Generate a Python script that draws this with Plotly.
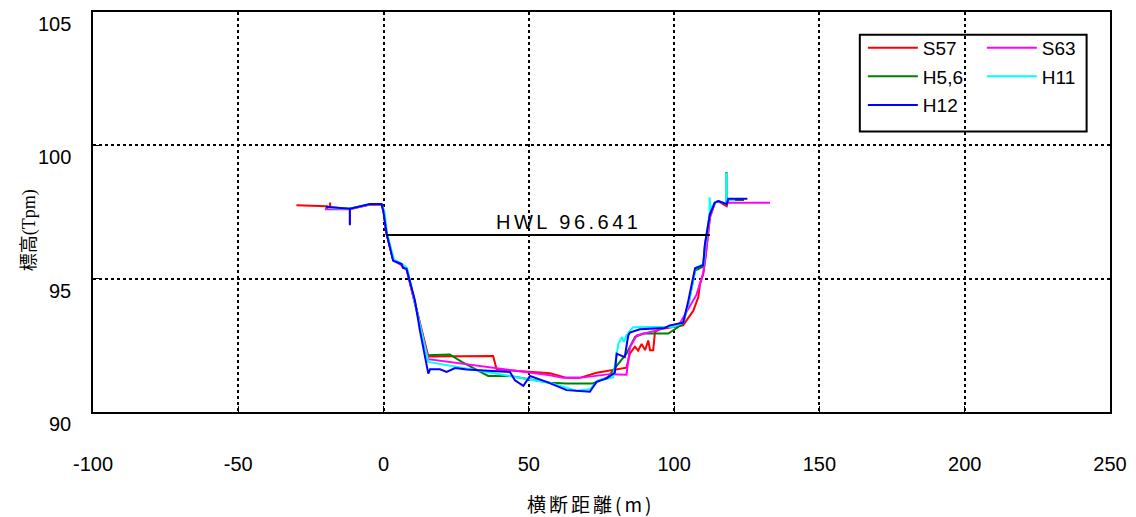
import plotly.graph_objects as go

# cross-section profiles (distance m, elevation Tpm)
s57_x = [-30, -19.6, -18.4, -18.4, -18.4, -11.6, -4.7, -0.7, 0.0, 1.0, 2.2, 3.3, 6.2, 6.7, 7.9, 10.8,
         15.4, 37.7, 38.9, 57.3, 63.0, 67.5, 73.3, 83.6, 84.8, 86.5, 87.6, 88.8, 90.0, 91.1, 91.7, 92.8,
         93.4, 95.0, 103.1, 106.6, 108.3, 108.9, 110.0, 110.8, 112.3, 114.0, 115.2, 118.1, 118.6, 124.0]
s57_y = [97.75, 97.72, 97.68, 97.86, 97.68, 97.62, 97.78, 97.78, 97.55, 96.7, 96.2, 95.7, 95.55, 95.4, 95.37, 94.1,
         92.08, 92.1, 91.6, 91.45, 91.28, 91.28, 91.47, 91.66, 92.2, 92.45, 92.3, 92.55, 92.32, 92.68, 92.32, 92.32,
         93.0, 93.1, 93.25, 93.8, 94.3, 94.8, 95.17, 95.8, 97.3, 97.85, 97.9, 97.72, 97.95, 97.95]

h56_x = [-20.0, -11.6, -4.7, -0.7, 0.0, 1.0, 2.2, 3.3, 6.2, 7.9, 11.0, 15.0, 22.8, 26.9, 36.0, 43.5, 57.3,
         63.0, 72.0, 77.3, 80.0, 83.6, 86.5, 89.4, 98.0, 103.1, 105.0, 107.2, 110.0, 110.6, 112.3, 114.0,
         115.2, 118.0, 118.0, 118.1, 124.0]
h56_y = [97.65, 97.62, 97.78, 97.78, 97.55, 96.7, 96.2, 95.7, 95.55, 95.4, 94.0, 92.13, 92.16, 91.88, 91.35, 91.35, 91.1,
         91.07, 91.07, 91.32, 91.7, 92.19, 92.81, 92.94, 92.94, 93.31, 94.1, 95.3, 95.45, 96.29, 97.41, 97.85,
         97.91, 97.8, 99.0, 97.95, 97.95]

s63_x = [-20.2, -11.6, -11.6, -11.6, -4.7, -0.7, 0.0, 1.0, 2.2, 3.3, 6.2, 7.9, 15.4, 57.3, 61.8, 67.5, 77.8,
         83.6, 84.8, 87.1, 94.0, 102.0, 107.7, 110.0, 111.0, 112.3, 114.0, 115.2, 118.0, 118.6, 133.0]
s63_y = [97.6, 97.6, 97.05, 97.6, 97.78, 97.78, 97.55, 96.7, 96.2, 95.7, 95.5, 95.35, 91.98, 91.38, 91.28, 91.28, 91.42,
         91.4, 92.44, 92.87, 93.06, 93.33, 94.4, 95.2, 96.0, 97.3, 97.85, 97.9, 97.8, 97.85, 97.85]

h11_x = [-19.0, -11.6, -4.7, -0.7, 0.3, 1.2, 2.4, 3.6, 6.4, 8.1, 15.4, 57.3, 66.4, 71.0, 73.9, 79.0, 80.8,
         82.0, 82.7, 83.6, 84.9, 85.9, 99.7, 103.1, 105.2, 107.4, 110.2, 110.8, 112.2, 112.2, 112.5, 114.0,
         115.2, 118.0, 118.0, 118.1, 121.0]
h11_y = [97.65, 97.62, 97.8, 97.8, 97.5, 96.7, 96.2, 95.7, 95.55, 95.4, 91.88, 91.09, 90.8, 90.85, 91.19, 91.3, 92.56,
         92.81, 92.63, 92.87, 93.06, 93.18, 93.2, 93.35, 94.2, 95.4, 95.55, 96.3, 97.41, 98.05, 97.6, 97.85,
         97.91, 97.8, 98.97, 97.95, 97.95]

h12_x = [-19.8, -11.6, -11.6, -11.6, -4.7, -0.7, -0.1, 1.07, 2.2, 3.3, 6.2, 6.7, 7.9, 10.8, 12.5, 15.4, 16.0,
         19.4, 21.7, 24.6, 28.6, 43.5, 45.2, 48.1, 50.4, 56.1, 63.0, 71.0, 73.3, 76.8, 79.6, 80.2, 83.0,
         84.2, 84.8, 88.2, 96.8, 98.5, 103.1, 104.9, 107.2, 110.0, 110.6, 112.3, 114.0, 115.2, 118.1, 118.6, 125.2]
h12_y = [97.7, 97.62, 97.0, 97.62, 97.8, 97.8, 97.54, 96.68, 96.17, 95.67, 95.55, 95.4, 95.37, 94.18, 93.06, 91.44, 91.6,
         91.6, 91.5, 91.65, 91.59, 91.5, 91.19, 90.98, 91.35, 91.13, 90.82, 90.76, 91.13, 91.26, 91.47, 92.19, 92.06,
         92.87, 92.98, 93.1, 93.15, 93.25, 93.35, 94.18, 95.39, 95.51, 96.29, 97.41, 97.85, 97.91, 97.79, 98.0, 98.0]

hwl_x = [1.07, 112.3]
hwl_level = 96.641

x_ticks = [-100, -50, 0, 50, 100, 150, 200, 250]
x_labels = ['-100', '-50', '0', '50', '100', '150', '200', '250']
y_ticks = [90, 95, 100, 105]
y_labels = ['90', '95', '100', '105']


def spaced(txt, px):
    return '<span style="letter-spacing:%spx">%s</span>' % (px, txt)


series = [
    ('S57', s57_x, s57_y, '#ff0000', 'legend'),
    ('H5,6', h56_x, h56_y, '#008000', 'legend'),
    ('S63', s63_x, s63_y, '#ff00ff', 'legend2'),
    ('H11', h11_x, h11_y, '#00ffff', 'legend2'),
    ('H12', h12_x, h12_y, '#0000ff', 'legend'),
]

fig = go.Figure()
for name, xs, ys, col, lg in series:
    fig.add_trace(go.Scatter(x=xs, y=ys, mode='lines', name=name, legend=lg, legendgroup=name,
                             line=dict(color=col, width=2)))

fig.add_trace(go.Scatter(x=hwl_x, y=[hwl_level] * 2, mode='lines', showlegend=False,
                         line=dict(color='black', width=2)))
fig.add_annotation(x=sum(hwl_x) / 2 + 7, y=hwl_level, text=spaced('HWL %.3f' % hwl_level, 3.5),
                   showarrow=False, yanchor='bottom', yshift=0, font=dict(size=20, color='black'))

for v, t in zip(y_ticks, y_labels):
    fig.add_annotation(x=-0.02, xref='paper', y=v, yref='y', text=t, showarrow=False,
                       xanchor='right', yshift=-12, font=dict(size=20, color='black'))

# axis titles
fig.add_annotation(x=0.489, xref='paper', y=-0.268, yref='paper', text=spaced('横断距離(m)', 3),
                   showarrow=False, font=dict(family='Noto Sans CJK JP', size=19, color='black'))
fig.add_annotation(x=-0.074, xref='paper', y=0.455, yref='paper', text='標高(Tpm)', textangle=-90,
                   showarrow=False, font=dict(family='Liberation Serif, Noto Sans CJK JP', size=18, color='black'))

# legend frame around both legend columns
fig.add_shape(type='rect', xref='paper', yref='paper', x0=0.754, x1=0.977, y0=0.701, y1=0.943,
              line=dict(color='black', width=2), fillcolor='white', layer='below')

leg = dict(bgcolor='rgba(0,0,0,0)', borderwidth=0, font=dict(size=19, color='black'),
           yanchor='top', xanchor='left', tracegroupgap=1, itemwidth=50)

fig.update_layout(
    width=1136, height=517,
    margin=dict(l=85, r=34, t=2, b=113),
    plot_bgcolor='white', paper_bgcolor='white',
    font=dict(family='Liberation Sans, Arial', size=19, color='black'),
    legend=dict(leg, x=0.757, y=0.958),
    legend2=dict(leg, x=0.874, y=0.958),
    xaxis=dict(range=[-100, 250], tickvals=x_ticks, ticktext=x_labels, showgrid=True,
               gridcolor='black', griddash='dot', gridwidth=1.5, zeroline=False,
               showline=True, linecolor='black', linewidth=2, mirror=True,
               ticks='inside', ticklen=6, tickcolor='black', ticklabelstandoff=33,
               tickfont=dict(size=20)),
    yaxis=dict(range=[90, 105], tickvals=y_ticks, showticklabels=False, showgrid=True,
               gridcolor='black', griddash='dot', gridwidth=1.5, zeroline=False,
               showline=True, linecolor='black', linewidth=2, mirror=True,
               ticks='inside', ticklen=6, tickcolor='black'),
)

fig.write_html("out.html")
